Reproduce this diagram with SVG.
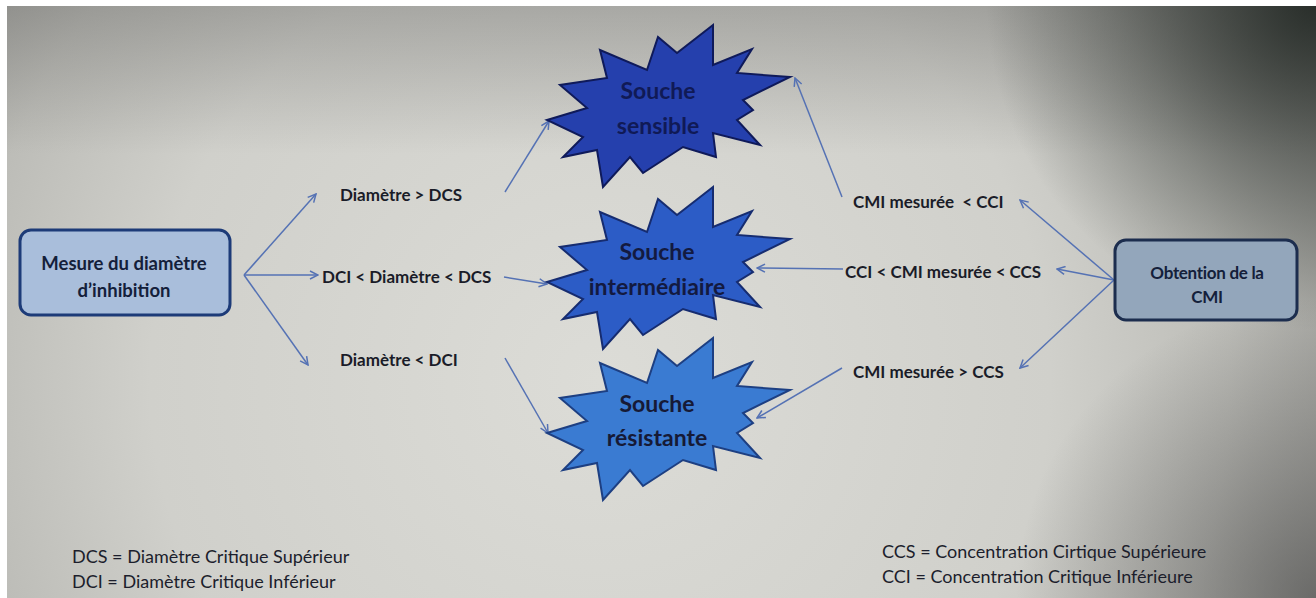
<svg xmlns="http://www.w3.org/2000/svg" xmlns:xlink="http://www.w3.org/1999/xlink" width="1316" height="598" viewBox="0 0 1316 598">
  <style>
    .lbl { font-family: Lato, "Open Sans", "Liberation Sans", sans-serif; font-weight: 700; font-size: 17px; fill: #1a1c28; }
    .box-t { font-family: Lato, "Open Sans", "Liberation Sans", sans-serif; font-weight: 700; fill: #14203a; text-anchor: middle; }
    .star-t { font-family: Lato, "Open Sans", "Liberation Sans", sans-serif; font-weight: 700; font-size: 23px; text-anchor: middle; }
    .legend { font-family: Lato, "Open Sans", "Liberation Sans", sans-serif; font-size: 18px; fill: #1c1e2c; }
    .conn { fill: none; stroke: #5572b4; stroke-width: 1.5; }
  </style>
  <defs>
    <radialGradient id="bg" cx="600" cy="380" r="900" gradientUnits="userSpaceOnUse">
      <stop offset="0" stop-color="#dcdcd7"/>
      <stop offset="0.5" stop-color="#d0d0cb"/>
      <stop offset="0.7" stop-color="#bdbdb8"/>
      <stop offset="0.9" stop-color="#9a9a96"/>
      <stop offset="1" stop-color="#8a8a86"/>
    </radialGradient>
    <radialGradient id="shade" cx="1316" cy="0" r="330" gradientUnits="userSpaceOnUse">
      <stop offset="0" stop-color="#1e2420" stop-opacity="0.9"/>
      <stop offset="0.5" stop-color="#1e2420" stop-opacity="0.45"/>
      <stop offset="1" stop-color="#1e2420" stop-opacity="0"/>
    </radialGradient>
    <radialGradient id="shade2" cx="1316" cy="598" r="300" gradientUnits="userSpaceOnUse">
      <stop offset="0" stop-color="#3a3a3a" stop-opacity="0.55"/>
      <stop offset="1" stop-color="#3a3a3a" stop-opacity="0"/>
    </radialGradient>
    <linearGradient id="topdim" x1="0" y1="0" x2="0" y2="1">
      <stop offset="0" stop-color="#5a5a58" stop-opacity="0.35"/>
      <stop offset="0.25" stop-color="#5a5a58" stop-opacity="0"/>
    </linearGradient>
    <marker id="arr" viewBox="0 0 10 10" refX="9" refY="5" markerWidth="10" markerHeight="10" markerUnits="userSpaceOnUse" orient="auto">
      <path d="M1,1 L9,5 L1,9" fill="none" stroke="#5572b4" stroke-width="1.5"/>
    </marker>
    <!-- burst outline shared by the three result shapes -->
    <polygon id="burst" points="713,25 713,65 752,49 737,73 790,77 743,100 753,110 737,120 760,145 713,133 716,157 683,147 643,173 630,157 603,187 597,150 563,157 583,137 547,120 587,108 560,85 607,78 600,50 647,70 658,37 677,53"/>
  </defs>

  <!-- backdrop -->
  <rect x="0" y="0" width="1316" height="598" fill="#ffffff"/>
  <rect x="7" y="6" width="1309" height="592" fill="url(#bg)"/>
  <rect x="7" y="6" width="1309" height="592" fill="url(#topdim)"/>
  <rect x="7" y="6" width="1309" height="592" fill="url(#shade)"/>
  <rect x="7" y="6" width="1309" height="592" fill="url(#shade2)"/>

  <!-- connectors -->
  <g id="connectors">
    <line class="conn" x1="244" y1="275" x2="316" y2="194" marker-end="url(#arr)"/>
    <line class="conn" x1="244" y1="275" x2="318" y2="275" marker-end="url(#arr)"/>
    <line class="conn" x1="244" y1="275" x2="308" y2="365" marker-end="url(#arr)"/>
    <line class="conn" x1="505" y1="192" x2="549" y2="121" marker-end="url(#arr)"/>
    <line class="conn" x1="504" y1="277" x2="547" y2="284" marker-end="url(#arr)"/>
    <line class="conn" x1="505" y1="358" x2="548" y2="433" marker-end="url(#arr)"/>
    <line class="conn" x1="1114" y1="280" x2="1020" y2="200" marker-end="url(#arr)"/>
    <line class="conn" x1="1114" y1="280" x2="1057" y2="269" marker-end="url(#arr)"/>
    <line class="conn" x1="1114" y1="280" x2="1020" y2="368" marker-end="url(#arr)"/>
    <line class="conn" x1="842" y1="197" x2="795" y2="78" marker-end="url(#arr)"/>
    <line class="conn" x1="843" y1="269" x2="757" y2="268" marker-end="url(#arr)"/>
    <line class="conn" x1="842" y1="368" x2="757" y2="418" marker-end="url(#arr)"/>
  </g>

  <!-- source node: inhibition diameter -->
  <g id="node-diametre">
    <rect x="20" y="230" width="210" height="85" rx="11" fill="#a9bedb" stroke="#1d3b78" stroke-width="3"/>
    <text class="box-t" x="124" y="270" font-size="18.5">Mesure du diamètre</text>
    <text class="box-t" x="124" y="297" font-size="18.5">d’inhibition</text>
  </g>

  <!-- source node: MIC -->
  <g id="node-cmi">
    <rect x="1115" y="240" width="182" height="80" rx="11" fill="#93a6bb" stroke="#1c2d4e" stroke-width="3"/>
    <text class="box-t" x="1207" y="279" font-size="17" letter-spacing="-0.3">Obtention de la</text>
    <text class="box-t" x="1207" y="303" font-size="17" letter-spacing="-0.3">CMI</text>
  </g>

  <!-- result nodes -->
  <g id="node-sensible">
    <use xlink:href="#burst" fill="#2540ad" stroke="#0f1a5a" stroke-width="2"/>
    <text class="star-t" x="658" y="99" fill="#101a56">Souche</text>
    <text class="star-t" x="658" y="134" fill="#101a56">sensible</text>
  </g>
  <g id="node-intermediaire">
    <use xlink:href="#burst" transform="translate(0,162)" fill="#2c5cc6" stroke="#162c70" stroke-width="2"/>
    <text class="star-t" x="657" y="260" fill="#131a40">Souche</text>
    <text class="star-t" x="657" y="295" fill="#131a40">intermédiaire</text>
  </g>
  <g id="node-resistante">
    <use xlink:href="#burst" transform="translate(0,313)" fill="#3a7bd2" stroke="#1d3f82" stroke-width="2"/>
    <text class="star-t" x="657" y="412" fill="#161a36">Souche</text>
    <text class="star-t" x="657" y="446" fill="#161a36">résistante</text>
  </g>

  <!-- condition labels -->
  <g id="labels">
    <text class="lbl" x="340" y="201">Diamètre &gt; DCS</text>
    <text class="lbl" x="322" y="283">DCI &lt; Diamètre &lt; DCS</text>
    <text class="lbl" x="340" y="366">Diamètre &lt; DCI</text>
    <text class="lbl" x="853" y="208" xml:space="preserve">CMI mesurée  &lt; CCI</text>
    <text class="lbl" x="845" y="278">CCI &lt; CMI mesurée &lt; CCS</text>
    <text class="lbl" x="853" y="378">CMI mesurée &gt; CCS</text>
  </g>

  <!-- abbreviations -->
  <g id="legend">
    <text class="legend" x="72" y="563">DCS = Diamètre Critique Supérieur</text>
    <text class="legend" x="72" y="588">DCI = Diamètre Critique Inférieur</text>
    <text class="legend" x="882" y="558" font-size="17.3">CCS = Concentration Cirtique Supérieure</text>
    <text class="legend" x="882" y="583" font-size="17.3">CCI = Concentration Critique Inférieure</text>
  </g>
</svg>
